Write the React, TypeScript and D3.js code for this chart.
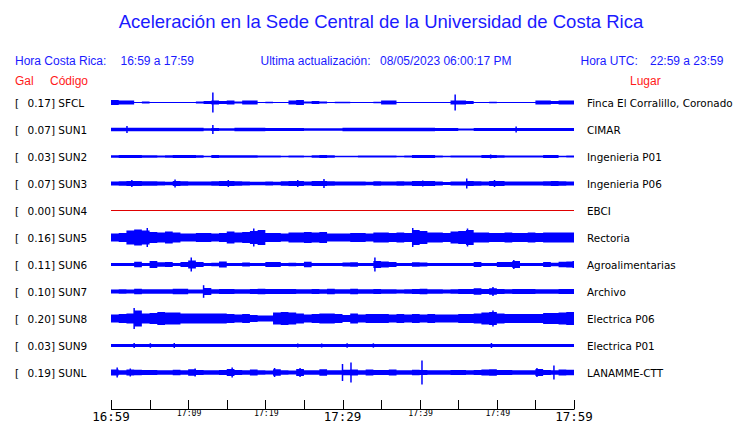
import React from "react";
import * as d3 from "d3";

const codes = ["SFCL", "SUN1", "SUN2", "SUN3", "SUN4", "SUN5", "SUN6", "SUN7", "SUN8", "SUN9", "SUNL"];
const gal = [0.17, 0.07, 0.03, 0.07, 0.0, 0.16, 0.11, 0.1, 0.2, 0.03, 0.19];
const places = [
  "Finca El Corralillo, Coronado",
  "CIMAR",
  "Ingenieria P01",
  "Ingenieria P06",
  "EBCI",
  "Rectoria",
  "Agroalimentarias",
  "Archivo",
  "Electrica P06",
  "Electrica P01",
  "LANAMME-CTT",
];
const traceColors = ["#0000ff", "#0000ff", "#0000ff", "#0000ff", "#e00000", "#0000ff", "#0000ff", "#0000ff", "#0000ff", "#0000ff", "#0000ff"];

// per-minute half-amplitude envelopes (relative units), 60 minutes 16:59 -> 17:59
const envSFCL = [2.5, 2, 2, 0.5, 1, 0.5, 0.5, 0.5, 0.5, 0.5, 0.5, 1, 1.5, 2, 1.5, 2, 1, 2, 2, 0.5, 0.8, 0.5, 0.5, 2, 2.5, 1, 1.5, 1, 0.5, 0.8, 0.8, 0.5, 0.5, 0.5, 0.8, 2, 2, 0.5, 0.5, 0.5, 0.5, 0.5, 0.5, 0.5, 2, 2, 1.5, 0.5, 0.5, 0.8, 0.5, 0.5, 0.5, 0.5, 0.5, 2, 2, 1.5, 2, 2];
const envSUN1 = [1.8, 1.8, 1.8, 1.8, 1.8, 1.8, 1.8, 1.8, 1.8, 1.8, 1.8, 1.8, 1.3, 1.5, 1.3, 1.3, 1.8, 1.8, 1.8, 1.8, 1.5, 1.5, 1.5, 1.5, 1.5, 1.3, 1.3, 1.3, 1.3, 1.3, 1.8, 1.8, 1.8, 1.8, 1.8, 1.8, 1.8, 1.8, 1.7, 1.7, 1.7, 1.7, 1.6, 1.6, 1.6, 1.0, 1.0, 1.6, 1.6, 1.6, 1.6, 1.6, 1.6, 1.6, 1.4, 1.5, 1.5, 1.5, 1.5, 1.5];
const envSUN2 = [1.2, 1.5, 1.5, 1.5, 1.3, 1.3, 1.0, 1.2, 1.5, 1.5, 1.5, 1.3, 0.8, 1.5, 1.3, 1.2, 1.2, 1.2, 1.2, 1.0, 1.0, 1.0, 0.8, 1.0, 1.0, 0.8, 1.2, 1.5, 1.3, 0.8, 0.8, 0.8, 1.0, 1.0, 0.9, 1.0, 1.0, 0.8, 0.9, 1.5, 1.5, 1.4, 1.0, 0.7, 1.0, 1.1, 1.0, 1.1, 1.4, 1.6, 1.3, 1.0, 1.1, 1.0, 1.0, 1.0, 1.5, 1.4, 0.7, 1.0];
const envSUN3 = [2.0, 2.3, 2.6, 2.5, 2.3, 2.3, 2.0, 1.8, 2.5, 2.2, 1.9, 2.0, 2.0, 2.3, 2.6, 2.5, 2.3, 1.9, 1.8, 1.7, 1.9, 1.7, 2.2, 2.4, 2.6, 2.0, 2.5, 2.6, 2.3, 1.9, 1.9, 2.0, 2.0, 1.8, 2.2, 2.0, 2.1, 2.2, 2.0, 2.6, 2.5, 2.4, 2.1, 1.6, 2.0, 2.1, 2.5, 2.2, 2.1, 2.6, 2.4, 1.9, 2.0, 2.0, 2.0, 1.9, 2.2, 2.5, 2.3, 2.0];
const envSUN4 = [0.5, 0.5, 0.5, 0.5, 0.5, 0.5, 0.5, 0.5, 0.5, 0.5, 0.5, 0.5, 0.5, 0.5, 0.5, 0.5, 0.5, 0.5, 0.5, 0.5, 0.5, 0.5, 0.5, 0.5, 0.5, 0.5, 0.5, 0.5, 0.5, 0.5, 0.5, 0.5, 0.5, 0.5, 0.5, 0.5, 0.5, 0.5, 0.5, 0.5, 0.5, 0.5, 0.5, 0.5, 0.5, 0.5, 0.5, 0.5, 0.5, 0.5, 0.5, 0.5, 0.5, 0.5, 0.5, 0.5, 0.5, 0.5, 0.5, 0.5];
const envSUN5 = [4, 4.5, 7, 8, 7, 5.5, 5, 6, 5, 4, 4, 4.5, 4.5, 4, 4.5, 6, 5, 5.5, 6.5, 7.5, 4.5, 4.5, 4, 5, 5, 5.5, 5, 5.5, 4, 4, 4, 4.5, 4.5, 4, 5, 5, 4.5, 5, 4.5, 7.5, 6.5, 5, 5, 4.5, 6, 6.5, 7.5, 5, 5, 4.5, 4.5, 5, 4.5, 4.5, 5, 4.5, 5, 5, 5, 5];
const envSUN6 = [1.5, 1.6, 1.5, 2.8, 1.6, 3.5, 2.2, 2.4, 1.6, 2.5, 4, 2.4, 1.5, 1.8, 3, 1.5, 1.5, 2, 1.5, 1.6, 2.5, 2.4, 1.6, 1.8, 1.6, 2.8, 1.5, 1.5, 1.6, 1.5, 2, 2.2, 1.6, 1.6, 3.5, 3, 2.5, 1.6, 1.6, 2.2, 2, 1.6, 1.5, 1.5, 1.5, 1.5, 1.6, 2.5, 1.5, 1.6, 2.5, 2.4, 3.5, 1.6, 1.6, 1.6, 2.5, 1.7, 2.8, 3];
const envSUN7 = [2, 2.3, 2, 2.8, 2.3, 2.2, 2.2, 2.3, 2.8, 2.7, 2.1, 2.1, 3.5, 2.2, 2.4, 2.5, 2.2, 2.3, 2.6, 2.8, 2.4, 2.4, 2.5, 2.4, 2.2, 2.3, 2.4, 2.2, 2.8, 2.3, 2.2, 2.8, 2.3, 2.3, 2.4, 2.2, 2.3, 2.1, 2.3, 2.6, 2.8, 2.3, 2.3, 2.1, 2.2, 2.4, 2.4, 3.2, 2.4, 3.2, 2.5, 2.3, 2.4, 2.6, 2.4, 2.2, 2.3, 2.3, 2.5, 2.6];
const envSUN8 = [4, 4.5, 5, 8, 5, 5.5, 6.5, 6, 6, 5, 5, 5, 5, 5, 5, 4.5, 4, 4.5, 3.5, 3, 3, 6, 6.5, 6, 5, 4, 4.5, 5, 5, 4.5, 3.5, 5, 4, 4.5, 4.5, 4.5, 4, 4.5, 4, 4.5, 4, 4.5, 4, 4, 4, 4.5, 4.5, 5, 6, 6.5, 5, 4.5, 4.5, 4.5, 4.5, 4.5, 5.5, 5.5, 6, 6.5];
const envSUN9 = [1.6, 1.6, 1.6, 1.6, 1.6, 1.6, 1.6, 1.6, 1.6, 1.6, 1.6, 1.6, 1.6, 1.6, 1.6, 1.6, 1.6, 1.6, 1.6, 1.6, 1.6, 1.6, 1.6, 1.6, 1.6, 1.6, 1.6, 1.6, 1.6, 1.6, 1.6, 1.6, 1.6, 1.6, 1.6, 1.6, 1.6, 1.6, 1.5, 1.5, 1.5, 1.5, 1.6, 1.6, 1.6, 1.6, 1.6, 1.6, 1.6, 1.6, 1.6, 1.6, 1.6, 1.6, 1.6, 1.6, 1.6, 1.6, 1.6, 1.6];
const envSUNL = [3, 2.2, 3, 2.8, 2.5, 2.4, 2.3, 2.2, 2.8, 2.3, 3.2, 2.4, 2.3, 2.2, 2.4, 3.5, 2.5, 2.2, 3, 2.2, 2, 3.2, 2.2, 2, 3.5, 2.2, 2.2, 3.2, 2.3, 2.2, 2.8, 3, 2.3, 3, 2.4, 2.6, 3, 2.3, 2.3, 2.8, 2.5, 2.3, 2.2, 2.2, 2.5, 2.4, 2.3, 2.5, 3, 3.2, 2.5, 2.4, 2.2, 2.3, 2.2, 3.5, 2.4, 2.3, 3, 2.8];

// spikes: [minute, half-amplitude]
const spkSFCL = [[13.2, 10], [44.6, 8]];
const spkSUN1 = [[2.07, 3.5], [13.2, 4.5], [52.5, 3]];
const spkSUN2: number[][] = [[49.2, 2]];
const spkSUN3 = [[2.7, 3.5], [8.3, 4], [15.2, 3.5], [24.2, 3.5], [27.6, 4.5], [40.4, 3], [46.1, 5], [49.7, 3.5]];
const spkSUN4: number[][] = [];
const spkSUN5 = [[4.7, 9.5], [18.5, 9], [39.1, 9.5], [46.2, 9]];
const spkSUN6 = [[10.4, 7], [34.2, 7], [52.2, 4.5], [59.9, 3.5]];
const spkSUN7 = [[12.0, 6.3], [49.5, 4.5]];
const spkSUN8 = [[3.0, 10.5], [49.5, 8]];
const spkSUN9 = [[3.0, 2.5], [5.1, 2.3], [8.2, 2.5], [24.2, 2], [27.3, 2], [30.6, 2.2], [34, 2.2], [49.3, 2.5]];
const spkSUNL = [[0.8, 5], [2.5, 4], [10.9, 4], [15.7, 5], [21.2, 4.5], [24.5, 4.5], [30.0, 8.5], [31.1, 10], [40.3, 12], [55.2, 4.5], [57.4, 7]];

const envelopes = [envSFCL, envSUN1, envSUN2, envSUN3, envSUN4, envSUN5, envSUN6, envSUN7, envSUN8, envSUN9, envSUNL];
const spikes = [spkSFCL, spkSUN1, spkSUN2, spkSUN3, spkSUN4, spkSUN5, spkSUN6, spkSUN7, spkSUN8, spkSUN9, spkSUNL];

const tickMinutes = [0, 5, 10, 15, 20, 25, 30, 35, 40, 45, 50, 55, 60];
const bigLabels = [[0, "16:59"], [30, "17:29"], [60, "17:59"]] as [number, string][];
const smallLabels = [[10, "17:09"], [20, "17:19"], [40, "17:39"], [50, "17:49"]] as [number, string][];

export default function App() {
  const W = 740, H = 423;
  const x = d3.scaleLinear().domain([0, 60]).range([111, 574]);
  const y = d3.scalePoint<string>().domain(codes).range([102.5, 372.5]);
  const amp = d3.scaleLinear().domain([0, 1]).range([0, 1]);
  const blue = "#1a1aff";
  const red = "#ff1a1a";
  const labelFont = "DejaVu Sans, sans-serif";
  const headFont = "Liberation Sans, Arial, sans-serif";

  return (
    <svg width={W} height={H} style={{ position: "absolute", left: 0, top: 0, background: "#fff" }}>
      <rect x={0} y={0} width={W} height={H} fill="#fff" />
      <text x={381} y={28} textAnchor="middle" fontFamily={headFont} fontSize={18.5} fill={blue}>
        Aceleración en la Sede Central de la Universidad de Costa Rica
      </text>
      <g fontFamily={headFont} fontSize={12} fill={blue}>
        <text x={15} y={65}>Hora Costa Rica:</text>
        <text x={120.5} y={65}>16:59 a 17:59</text>
        <text x={260.5} y={65}>Ultima actualización:</text>
        <text x={380} y={65}>08/05/2023 06:00:17 PM</text>
        <text x={580.5} y={65}>Hora UTC:</text>
        <text x={650} y={65}>22:59 a 23:59</text>
      </g>
      <g fontFamily={headFont} fontSize={12} fill={red}>
        <text x={15} y={85}>Gal</text>
        <text x={50} y={85}>Código</text>
        <text x={630} y={85}>Lugar</text>
      </g>

      {codes.map((c, i) => {
        const base = y(c)!;
        const env = envelopes[i];
        const pts = env.map((a, t) => ({ t, a }));
        pts.push({ t: 60, a: env[env.length - 1] });
        const area = d3
          .area<{ t: number; a: number }>()
          .x((d) => x(d.t))
          .y0((d) => base + amp(d.a))
          .y1((d) => base - amp(d.a))
          .curve(d3.curveStepAfter);
        const col = traceColors[i];
        return (
          <g key={c}>
            <text x={15} y={base + 4} fontFamily={labelFont} fontSize={10.5} fill="#000">[</text>
            <text x={27.5} y={base + 4} fontFamily={labelFont} fontSize={10.5} fill="#000">
              {gal[i].toFixed(2) + "] " + c}
            </text>
            <text x={587} y={base + 4} fontFamily={labelFont} fontSize={10.4} fill="#000">
              {places[i]}
            </text>
            <line x1={x(0)} x2={x(60)} y1={base} y2={base} stroke={col} strokeWidth={1} />
            <path d={area(pts) || ""} fill={col} stroke="none" />
            {spikes[i].map(([t, a], k) => (
              <line key={k} x1={x(t)} x2={x(t)} y1={base - amp(a)} y2={base + amp(a)} stroke={col} strokeWidth={1.5} />
            ))}
          </g>
        );
      })}

      <g stroke="#000" strokeWidth={1}>
        <line x1={x(0)} x2={x(60)} y1={409.5} y2={409.5} />
        {tickMinutes.map((m) => (
          <line key={m} x1={Math.round(x(m)) + 0.5} x2={Math.round(x(m)) + 0.5} y1={400} y2={409.5} />
        ))}
      </g>
      <g fontFamily="DejaVu Sans Mono, monospace" fill="#000" textAnchor="middle">
        {bigLabels.map(([m, s]) => (
          <text key={s} x={x(m)} y={421} fontSize={12.5}>{s}</text>
        ))}
        {smallLabels.map(([m, s]) => (
          <text key={s} x={x(m) + 1} y={415.5} fontSize={8.2}>{s}</text>
        ))}
      </g>
    </svg>
  );
}
